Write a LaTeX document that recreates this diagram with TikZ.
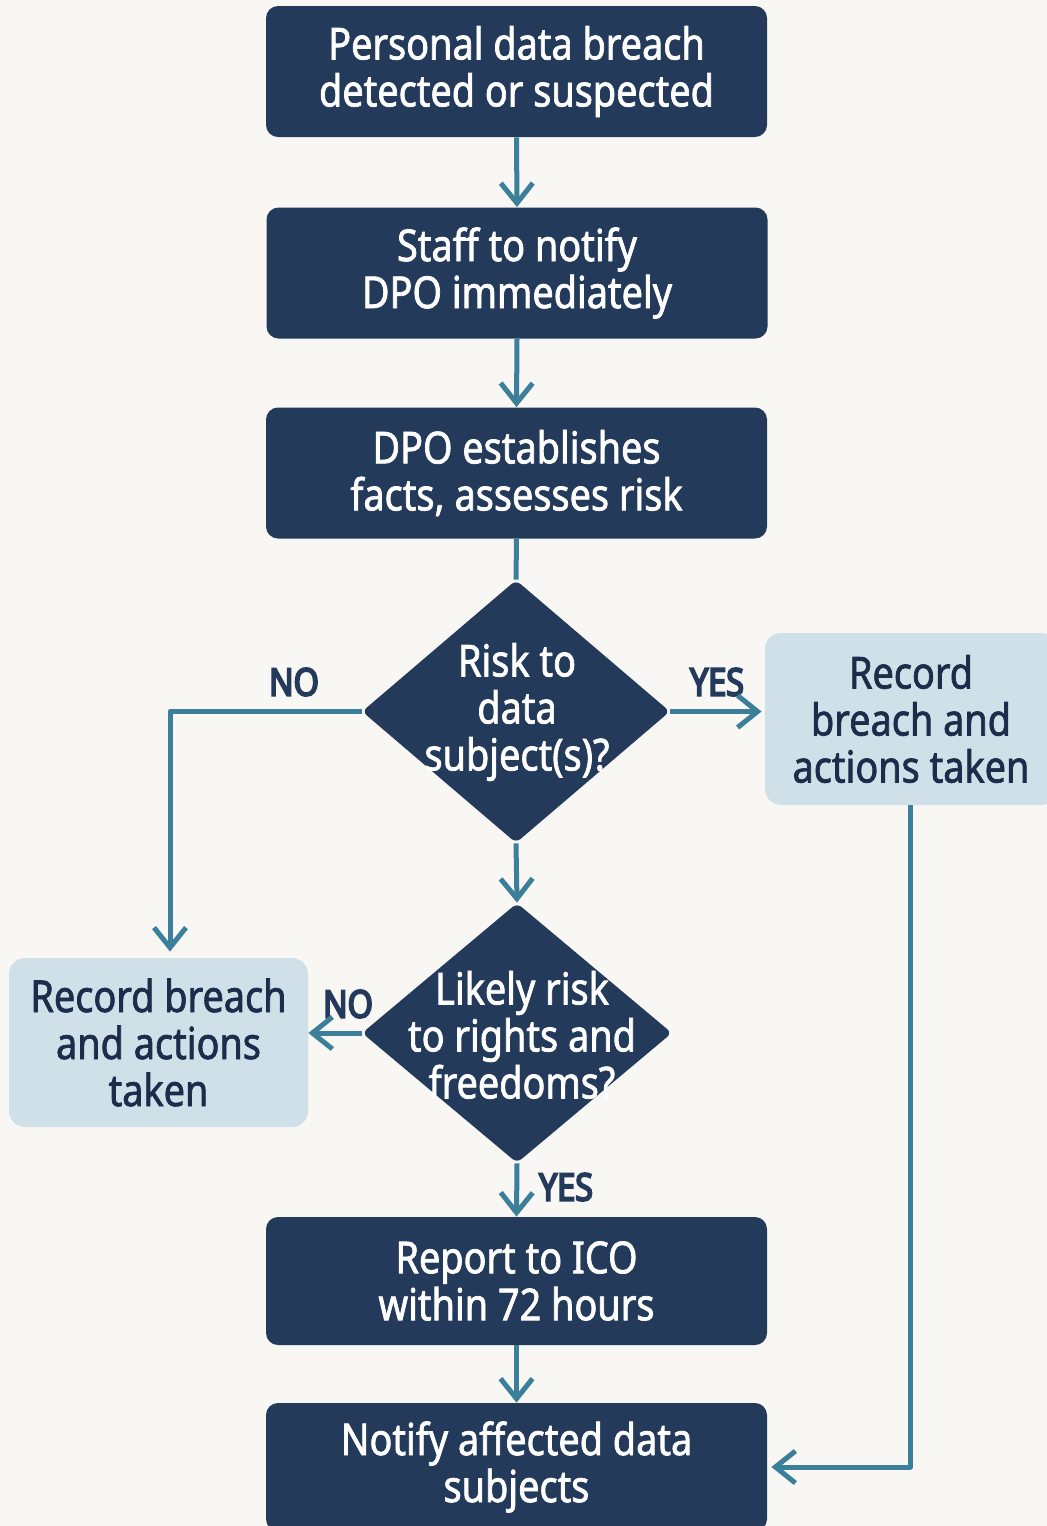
\documentclass[tikz,border=0pt]{standalone}
\usepackage{fontspec}
\setmainfont{Noto Sans}[FakeStretch=0.86,FakeBold=1.6]
\newfontfamily\labfont{Noto Sans}[FakeStretch=0.85,FakeBold=5]
\usetikzlibrary{arrows.meta,shapes.geometric}
\definecolor{navy}{HTML}{233A5B}
\definecolor{navytext}{HTML}{1B2D4A}
\definecolor{lightb}{HTML}{CFE0E8}
\definecolor{flowc}{HTML}{3B7F9B}
\definecolor{bgc}{HTML}{F9F7F4}
\tikzset{
  box/.style={fill=navy, rounded corners=6pt, minimum width=250.5pt, minimum height=65.5pt,
    text=white, align=center, font=\fontsize{22}{23.5}\selectfont, inner sep=0pt},
  lbox/.style={fill=lightb, rounded corners=8pt, text=navytext, align=center,
    font=\fontsize{22}{23.5}\selectfont, inner sep=0pt},
  dia/.style={diamond, fill=navy, inner sep=0pt, rounded corners=3pt},
  diatext/.style={text=white, align=center, font=\fontsize{22}{23.5}\selectfont, inner sep=0pt},
  lab/.style={text=navy, font=\labfont\fontsize{19}{19}\selectfont, inner sep=0pt},
  conn/.style={draw=flowc, line width=2.5pt, line join=round},
  arr/.style={conn, -{Straight Barb[length=10pt,width=16pt]}}
}
\begin{document}
\begin{tikzpicture}[x=0.5pt,y=-0.5pt]
\fill[bgc] (0,0) rectangle (1047,1526);
\useasboundingbox (0,0) rectangle (1047,1526);

\node[box] (b1) at (516.5,71.5) {Personal data breach\\detected or suspected};
\node[box] (b2) at (517,273) {Staff to notify\\DPO immediately};
\node[box] (b3) at (516.5,473) {DPO establishes\\facts, assesses risk};
\node[dia, minimum width=154pt, minimum height=131.5pt] (d1) at (516,711.5) {};
\node[diatext] (d1t) at (517,712) {Risk to\\data\\subject(s)?};
\node[lbox, minimum width=146pt, minimum height=86pt] (rb) at (911,719) {Record\\breach and\\actions taken};
\node[dia, minimum width=155pt, minimum height=130pt] (d2) at (517,1033) {};
\node[diatext] (d2t) at (522,1035) {Likely risk\\to rights and\\freedoms?};
\node[lbox, minimum width=149.5pt, minimum height=84.5pt] (lb) at (158.5,1042.5) {Record breach\\and actions\\taken};
\node[box, minimum height=64pt] (b5) at (516.5,1281) {Report to ICO\\within 72 hours};
\node[box, minimum height=64pt] (b6) at (516.5,1467) {Notify affected data\\subjects};

\node[lab] (no1) at (294,682) {NO};
\node[lab] (yes1) at (717,682) {YES};
\node[lab] (no2) at (348,1004) {NO};
\node[lab] (yes2) at (566,1187) {YES};

\draw[arr] (b1.south) -- (b2.north);
\draw[arr] (b2.south) -- (b3.north);
\draw[conn] (b3.south) -- (d1.north);
\draw[arr] (d1.west) -| ([xshift=5.75pt,yshift=3pt]lb.north);
\draw[arr, shorten >=1.5pt] (d1.east) -- (d1.east -| rb.west);
\draw[arr] (d1.south) -- (d2.north);
\draw[arr] (d2.west) -- (d2.west -| lb.east);
\draw[arr] (d2.south) -- (b5.north);
\draw[arr] (b5.south) -- (b6.north);
\draw[arr] ([xshift=-0.5pt]rb.south) |- ([xshift=2pt]b6.east);
\end{tikzpicture}
\end{document}
